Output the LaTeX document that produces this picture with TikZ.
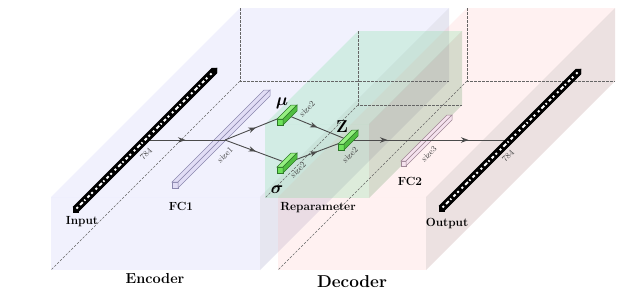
\documentclass[tikz,border=0pt]{standalone}
\usepackage{amsmath}
\usetikzlibrary{decorations.markings,arrows.meta}
\definecolor{encBase}{RGB}{140,140,242}
\definecolor{encSide}{RGB}{89,89,153}
\definecolor{decBase}{RGB}{255,150,150}
\definecolor{decSide}{RGB}{140,76,76}
\definecolor{grnBase}{RGB}{102,217,140}
\definecolor{grnSide}{RGB}{76,140,76}
\definecolor{connC}{RGB}{75,75,75}
\definecolor{fcOneF}{RGB}{225,221,245}
\definecolor{fcOneD}{RGB}{140,136,175}
\definecolor{fcTwoF}{RGB}{245,226,238}
\definecolor{fcTwoD}{RGB}{160,135,150}
\definecolor{latF}{RGB}{110,226,90}
\definecolor{latT}{RGB}{150,240,130}
\definecolor{latS}{RGB}{80,190,65}
\definecolor{latD}{RGB}{45,120,40}
\tikzset{
  encfront/.style={fill=encBase, fill opacity=0.12},
  encside/.style={fill=encSide, fill opacity=0.15},
  decfront/.style={fill=decBase, fill opacity=0.13},
  decside/.style={fill=decSide, fill opacity=0.17},
  grnfront/.style={fill=grnBase, fill opacity=0.22},
  grnside/.style={fill=grnSide, fill opacity=0.22},
  hidden/.style={draw=black!60, dash pattern=on 2.5pt off 1.5pt, line width=0.5pt},
  conn/.style={draw=connC, line width=0.9pt,
    decoration={markings, mark=at position 0.5 with {\arrow{Stealth[length=7.5pt,width=5.5pt]}}},
    postaction={decorate}},
  lbl/.style={font=\fontsize{11.8}{13}\selectfont\bfseries, text=black, inner sep=0pt, anchor=base},
  dimlbl/.style={font=\fontsize{8.5}{9}\selectfont, text=black!75, inner sep=0pt, rotate=45},
  symlbl/.style={font=\fontsize{16}{17}\selectfont, inner sep=0pt},
  pixF/.style={fill=black, draw=black, line width=0.4pt},
  fconeF/.style={fill=fcOneF, draw=fcOneD, line width=0.5pt},
  fctwoF/.style={fill=fcTwoF, draw=fcTwoD, line width=0.5pt},
  latFr/.style={fill=latF, draw=latD, line width=0.5pt},
  latTo/.style={fill=latT, draw=latD, line width=0.5pt},
  latSi/.style={fill=latS, draw=latD, line width=0.5pt}
}
% bar: x y w L frontstyle topstyle sidestyle
\newcommand{\barbox}[7]{%
  \path[#5] (#1,#2) rectangle (#1+#3,#2-#3);
  \path[#6] (#1,#2-#3) -- (#1+#3,#2-#3) -- (#1+#3+#4,#2-#3-#4) -- (#1+#4,#2-#3-#4) -- cycle;
  \path[#7] (#1+#3,#2) -- (#1+#3+#4,#2-#4) -- (#1+#3+#4,#2-#3-#4) -- (#1+#3,#2-#3) -- cycle;
}
\newcommand{\pixbar}[4]{%
  \barbox{#1}{#2}{#3}{#4}{pixF}{pixF}{pixF}
  \draw[white, line width=2pt, dash pattern=on 2pt off 3pt on 4pt off 2pt on 1.5pt off 3pt on 3pt off 2.5pt on 2pt off 4pt]
    (#1+#3/2+1,#2-#3/2-1) -- (#1+#3/2+#4-1,#2-#3/2-#4+1);
}
\begin{document}
\begin{tikzpicture}[x=1pt,y=-1pt]
\useasboundingbox (0,0) rectangle (623,298);
% ---------- Encoder cuboid ----------
\path[encfront] (51,197) rectangle (260,270);
\path[encfront] (51,197) -- (260,197) -- (449,8) -- (240,8) -- cycle;
\path[encside] (260,197) -- (449,8) -- (449,81) -- (260,270) -- cycle;
% ---------- Decoder cuboid ----------
\path[decfront] (278,197) rectangle (426,270);
\path[decfront] (278,197) -- (426,197) -- (615,8) -- (467,8) -- cycle;
\path[decside] (426,197) -- (615,8) -- (615,81) -- (426,270) -- cycle;
% ---------- Reparameter cuboid ----------
\path[grnfront] (265,124) rectangle (369,198);
\path[grnfront] (265,124) -- (369,124) -- (462,31) -- (358,31) -- cycle;
\path[grnside] (369,124) -- (462,31) -- (462,105) -- (369,198) -- cycle;
% hidden edges
\draw[hidden] (240,8) -- (240,81) -- (449,81);
\draw[hidden] (240,81) -- (51,270);
\draw[hidden] (467,8) -- (467,81) -- (615,81);
\draw[hidden] (467,81) -- (278,270);
\draw[hidden] (358,31) -- (358,105) -- (462,105);
\draw[hidden] (358,105) -- (265,198);
% ---------- FC bars ----------
\barbox{172}{188}{6}{92}{fconeF}{fconeF}{fconeF}
\barbox{401}{166}{5}{46}{fctwoF}{fctwoF}{fctwoF}
% ---------- connection points ----------
\coordinate (inC) at (146,140);
\coordinate (fc1C) at (225,140);
\coordinate (muC) at (287,115);
\coordinate (sgC) at (287,163);
\coordinate (zC) at (348,140);
\coordinate (fc2C) at (427,140);
\coordinate (outC) at (510,140);
\draw[conn] (inC) -- (fc1C);
\draw[conn] (fc1C) -- (muC);
\draw[conn] (fc1C) -- (sgC);
\draw[conn] (muC) -- (zC);
\draw[conn] (sgC) -- (zC);
\draw[conn] (zC) -- (fc2C);
\draw[conn] (fc2C) -- (outC);
% ---------- pixel bars ----------
\pixbar{73}{212}{5}{139}
\pixbar{439}{211}{5}{137}
% ---------- latent boxes ----------
\barbox{277}{125}{6}{14}{latFr}{latTo}{latSi}
\barbox{277}{173}{6}{14}{latFr}{latTo}{latSi}
\barbox{338}{150}{6}{14}{latFr}{latTo}{latSi}
% ---------- labels ----------
\node[dimlbl] (inDim) at (146,154) {784};
\node[dimlbl] (outDim) at (508,156) {784};
\node[dimlbl] (fc1Dim) at (225,155) {size1};
\node[dimlbl] (muDim) at (307,109) {size2};
\node[dimlbl] (sgDim) at (298,170) {size2};
\node[dimlbl] (zDim) at (350,155) {size2};
\node[dimlbl] (fc2Dim) at (429,154) {size3};
\node[symlbl] (muL) at (282,103) {$\boldsymbol{\mu}$};
\node[symlbl] (sgL) at (277,190) {$\boldsymbol{\sigma}$};
\node[symlbl] (zL) at (342,127) {$\mathbf{Z}$};
\node[lbl] (inputL) at (82,224.5) {Input};
\node[lbl] (fc1L) at (181,210) {FC1};
\node[lbl] (repL) at (318,210) {Reparameter};
\node[lbl] (fc2L) at (410,185.5) {FC2};
\node[lbl] (outL) at (447,226) {Output};
\node[font=\fontsize{14.5}{16}\selectfont\bfseries, text=black, inner sep=0pt, anchor=base] (encL) at (155,283) {Encoder};
\node[font=\fontsize{17.2}{19}\selectfont\bfseries, text=black, inner sep=0pt, anchor=base] (decL) at (352,287) {Decoder};
\end{tikzpicture}
\end{document}
